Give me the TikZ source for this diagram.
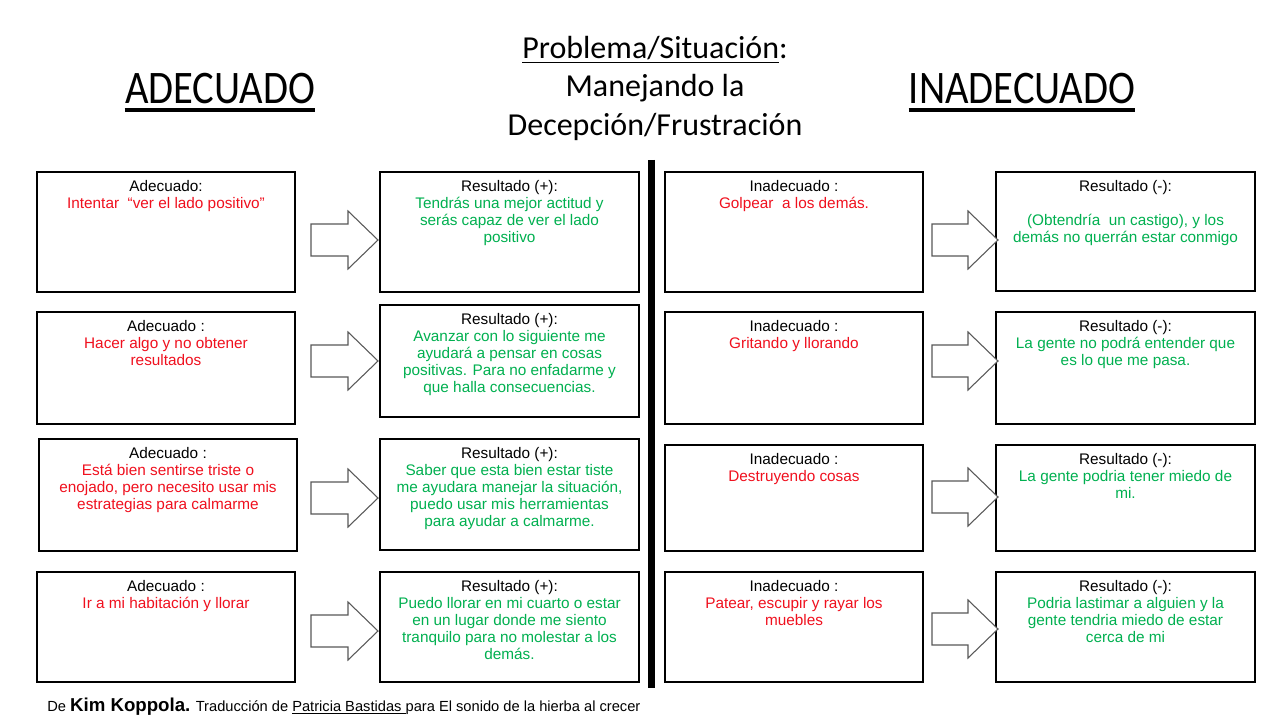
\documentclass[tikz,border=0pt]{standalone}
\usepackage{fontspec}
\setmainfont{Liberation Sans}
\newfontfamily\calibri{Carlito}
\newfontfamily\calibrinarrow{Carlito}[FakeStretch=0.87]
\definecolor{txtred}{HTML}{F0101E}
\definecolor{txtgreen}{HTML}{00B050}
\definecolor{arrowgray}{HTML}{595959}
\newcommand\myarrow[3]{%
  \draw[arrowshape] (#1,#3-16) -- (#2,#3-16) -- (#2,#3-29) -- (#2+30,#3) -- (#2,#3+29) -- (#2,#3+16) -- (#1,#3+16) -- cycle;}
\begin{document}
\begin{tikzpicture}[x=0.75pt,y=-0.75pt,
  box/.style={draw=black,line width=0.8pt,inner sep=0pt,fill=white},
  txt/.style={anchor=north,align=center,inner sep=0pt,font=\fontsize{11.5}{12.8}\selectfont},
  arrowshape/.style={draw=arrowgray,line width=0.8pt,fill=white,line join=miter},
  bighead/.style={font=\calibrinarrow\fontsize{35}{40}\selectfont,anchor=base,inner sep=0pt},
  midhead/.style={font=\calibri\fontsize{24}{29}\selectfont,anchor=base,inner sep=0pt},
  ul/.style={line width=2.3pt}]
\useasboundingbox (0,0) rectangle (1280,720);
\fill[white] (0,0) rectangle (1280,720);

% headers
\node[bighead] (hadq) at (220,104) {ADECUADO};
\draw[ul] (hadq.base west) ++(0,6) coordinate (ua1) -- (ua1 -| hadq.base east);
\node[bighead] (hinadq) at (1022,104) {INADECUADO};
\draw[ul] (hinadq.base west) ++(0,6) coordinate (ub1) -- (ub1 -| hinadq.base east);
\node[midhead] (h1) at (655,59) {\underline{Problema/Situación}:};
\node[midhead] (h2) at (655,97) {Manejando la};
\node[midhead] (h3) at (655,136) {Decepción/Frustración};

% divider
\draw[line width=5.25pt] (651.5,160) coordinate (dtop) -- (651.5,688) coordinate (dbot);

% column 1
\node[box,minimum width=193.5pt,minimum height=90pt] (a1) at (166,232) {};
\node[box,minimum width=193.5pt,minimum height=84pt] (a2) at (166,368) {};
\node[box,minimum width=193.5pt,minimum height=84pt] (a3) at (168,495) {};
\node[box,minimum width=193.5pt,minimum height=82.5pt] (a4) at (166,627) {};
% column 2
\node[box,minimum width=194.25pt,minimum height=90pt] (b1) at (509.5,232) {};
\node[box,minimum width=194.25pt,minimum height=84pt] (b2) at (509.5,361) {};
\node[box,minimum width=194.25pt,minimum height=83.25pt] (b3) at (509.5,494.5) {};
\node[box,minimum width=194.25pt,minimum height=82.5pt] (b4) at (509.5,627) {};
% column 3
\node[box,minimum width=193.5pt,minimum height=90pt] (c1) at (794,232) {};
\node[box,minimum width=193.5pt,minimum height=84pt] (c2) at (794,368) {};
\node[box,minimum width=193.5pt,minimum height=79.5pt] (c3) at (794,498) {};
\node[box,minimum width=193.5pt,minimum height=82.5pt] (c4) at (794,627) {};
% column 4
\node[box,minimum width=194.25pt,minimum height=89.25pt] (d1) at (1125.5,231.5) {};
\node[box,minimum width=194.25pt,minimum height=84pt] (d2) at (1125.5,368) {};
\node[box,minimum width=194.25pt,minimum height=79.5pt] (d3) at (1125.5,498) {};
\node[box,minimum width=194.25pt,minimum height=82.5pt] (d4) at (1125.5,627) {};

% texts
\tikzset{tshift/.style={yshift=-6.3pt}}
\node[txt] (ta1) at ([tshift]a1.north) {Adecuado:\\\textcolor{txtred}{Intentar \ “ver el lado positivo”}};
\node[txt] (ta2) at ([tshift]a2.north) {Adecuado :\\\textcolor{txtred}{Hacer algo y no obtener}\\\textcolor{txtred}{resultados}};
\node[txt] (ta3) at ([tshift]a3.north) {Adecuado :\\\textcolor{txtred}{Está bien sentirse triste o}\\\textcolor{txtred}{enojado, pero necesito usar mis}\\\textcolor{txtred}{estrategias para calmarme}};
\node[txt] (ta4) at ([tshift]a4.north) {Adecuado :\\\textcolor{txtred}{Ir a mi habitación y llorar}};

\node[txt] (tb1) at ([tshift]b1.north) {Resultado (+):\\\textcolor{txtgreen}{Tendrás una mejor actitud y}\\\textcolor{txtgreen}{serás capaz de ver el lado}\\\textcolor{txtgreen}{positivo}};
\node[txt] (tb2) at ([tshift]b2.north) {Resultado (+):\\\textcolor{txtgreen}{Avanzar con lo siguiente me}\\\textcolor{txtgreen}{ayudará a pensar en cosas}\\\textcolor{txtgreen}{positivas. Para no enfadarme y}\\\textcolor{txtgreen}{que halla consecuencias.}};
\node[txt] (tb3) at ([tshift]b3.north) {Resultado (+):\\\textcolor{txtgreen}{Saber que esta bien estar tiste}\\\textcolor{txtgreen}{me ayudara manejar la situación,}\\\textcolor{txtgreen}{puedo usar mis herramientas}\\\textcolor{txtgreen}{para ayudar a calmarme.}};
\node[txt] (tb4) at ([tshift]b4.north) {Resultado (+):\\\textcolor{txtgreen}{Puedo llorar en mi cuarto o estar}\\\textcolor{txtgreen}{en un lugar donde me siento}\\\textcolor{txtgreen}{tranquilo para no molestar a los}\\\textcolor{txtgreen}{demás.}};

\node[txt] (tc1) at ([tshift]c1.north) {Inadecuado :\\\textcolor{txtred}{Golpear \ a los demás.}};
\node[txt] (tc2) at ([tshift]c2.north) {Inadecuado :\\\textcolor{txtred}{Gritando y llorando}};
\node[txt] (tc3) at ([tshift]c3.north) {Inadecuado :\\\textcolor{txtred}{Destruyendo cosas}};
\node[txt] (tc4) at ([tshift]c4.north) {Inadecuado :\\\textcolor{txtred}{Patear, escupir y rayar los}\\\textcolor{txtred}{muebles}};

\node[txt] (td1) at ([tshift]d1.north) {Resultado (-):\\[12.8pt]\textcolor{txtgreen}{(Obtendría \ un castigo), y los}\\\textcolor{txtgreen}{demás no querrán estar conmigo}};
\node[txt] (td2) at ([tshift]d2.north) {Resultado (-):\\\textcolor{txtgreen}{La gente no podrá entender que}\\\textcolor{txtgreen}{es lo que me pasa.}};
\node[txt] (td3) at ([tshift]d3.north) {Resultado (-):\\\textcolor{txtgreen}{La gente podria tener miedo de}\\\textcolor{txtgreen}{mi.}};
\node[txt] (td4) at ([tshift]d4.north) {Resultado (-):\\\textcolor{txtgreen}{Podria lastimar a alguien y la}\\\textcolor{txtgreen}{gente tendria miedo de estar}\\\textcolor{txtgreen}{cerca de mi}};

% block arrows
\myarrow{311}{348}{240}
\myarrow{311}{348}{361}
\myarrow{311}{348}{498}
\myarrow{311}{348}{631}
\myarrow{932}{968}{240}
\myarrow{932}{968}{361}
\myarrow{932}{968}{497}
\myarrow{932}{968}{629}

% footer
\node[anchor=base west,inner sep=0pt,font=\fontsize{11}{13}\selectfont] (foot) at (47,711)
  {De {\fontsize{14}{16}\selectfont\bfseries Kim Koppola.} Traducción de \underline{Patricia Bastidas\ }para El sonido de la hierba al crecer};
\end{tikzpicture}
\end{document}
